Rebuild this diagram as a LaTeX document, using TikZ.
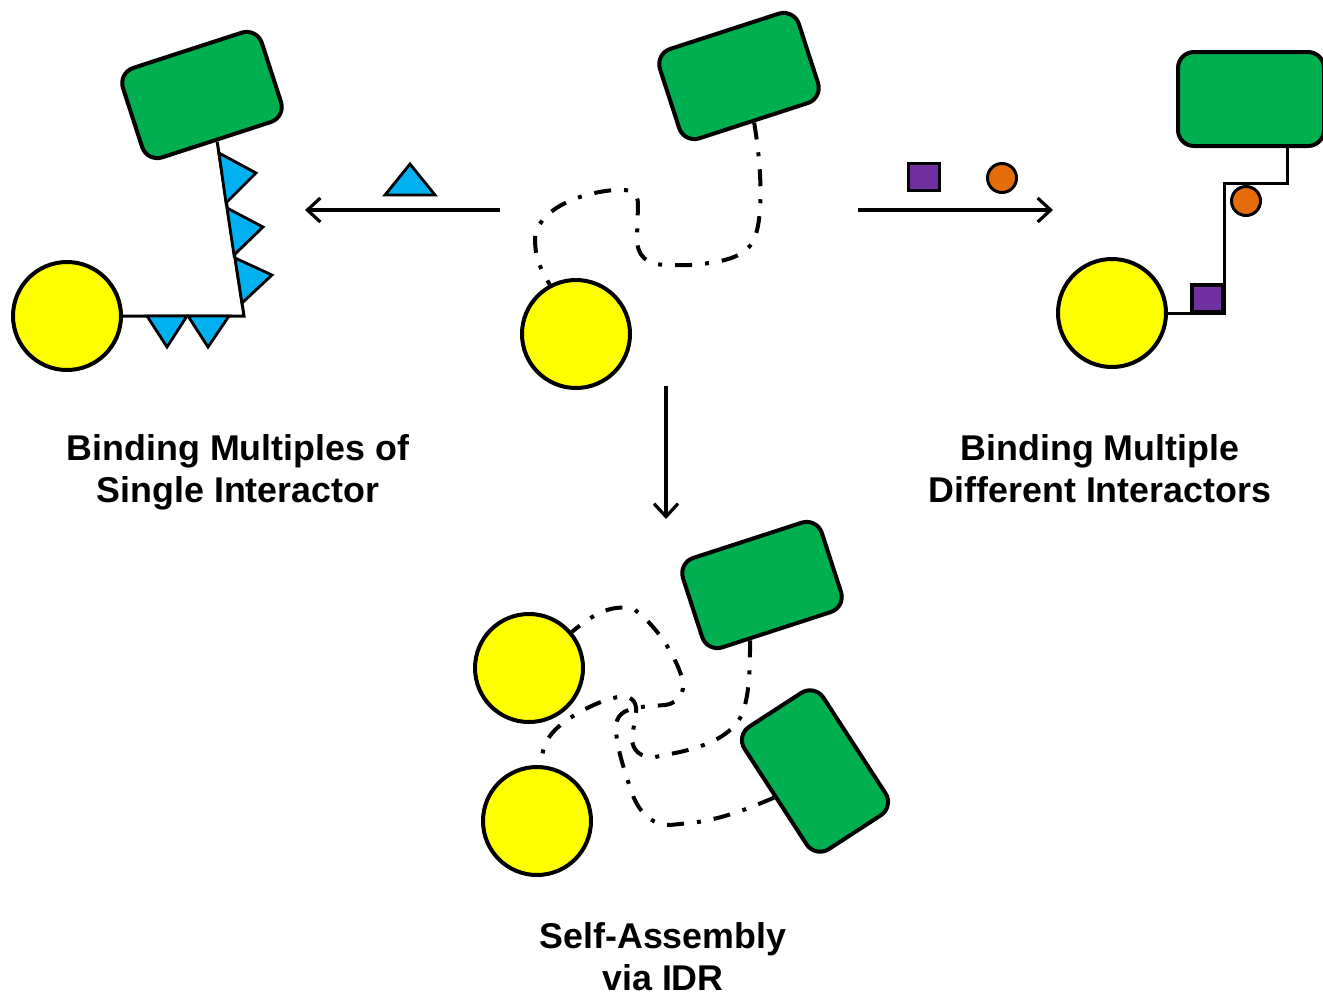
\documentclass[tikz,border=0pt]{standalone}
\usepackage{fontspec}
\setmainfont{Liberation Sans}
\usetikzlibrary{arrows.meta,calc}
\definecolor{domgreen}{HTML}{00B050}
\definecolor{ballyellow}{HTML}{FFFF00}
\definecolor{tricyan}{HTML}{00B0F0}
\definecolor{sqpurple}{HTML}{7030A0}
\definecolor{dotorange}{HTML}{E46C0A}
\begin{document}
\begin{tikzpicture}[x=0.5pt,y=-0.5pt,
  gbox/.style={draw=black,line width=2pt,fill=domgreen,rounded corners=8pt,
    minimum width=73pt,minimum height=47pt,inner sep=0pt},
  ball/.style={circle,draw=black,line width=2pt,fill=ballyellow,minimum size=54pt,inner sep=0pt},
  sq/.style={draw=black,line width=1.7pt,fill=sqpurple,minimum width=15.5pt,minimum height=13.5pt,inner sep=0pt},
  bead/.style={circle,draw=black,line width=1.5pt,fill=dotorange,minimum size=14.5pt,inner sep=0pt},
  tri/.style={draw=black,line width=1.4pt,fill=tricyan,line join=miter},
  link/.style={draw=black,line width=1.5pt},
  idr/.style={draw=black,line width=2pt,dash pattern=on 8.5pt off 6.5pt on 2pt off 6.5pt},
  flow/.style={draw=black,line width=1.6pt,-{Straight Barb[length=6.5pt,width=12pt]}},
  caption/.style={font=\fontsize{17.9}{21.3}\selectfont\bfseries,align=center,anchor=north,inner sep=0pt}
]
\useasboundingbox (0,0) rectangle (1323,997);

% ---- left: one interactor bound many times ----
\node[ball] (y1) at (67,316) {};
\node[gbox,rotate=18] (g1) at (202,95) {};
\coordinate (k1) at (244,316);
\draw[link] (y1.east) -- (k1) -- (g1.south);
\filldraw[tri] (147,316) -- (187,316) -- (167,347) -- cycle;
\filldraw[tri] (188,316) -- (229,316) -- (208,347) -- cycle;
\filldraw[tri] (219,153) -- (226,203) -- (256,173) -- cycle;
\filldraw[tri] (227,208) -- (234,255) -- (263,227) -- cycle;
\filldraw[tri] (235,258) -- (242,303) -- (272,275) -- cycle;

% ---- centre: free protein with disordered linker ----
\node[gbox,rotate=18] (g2) at (739,76) {};
\node[ball] (y2) at (576,334) {};
\draw[idr] (g2.south) .. controls (762,170) and (763,215) .. (755,237)
  .. controls (748,255) and (730,262) .. (690,265) -- (668,265)
  .. controls (645,265) and (637,255) .. (637,238) -- (638,205)
  .. controls (638,192) and (632,189) .. (615,190)
  .. controls (575,193) and (537,212) .. (535,238)
  .. controls (535,255) and (538,265) .. (y2.118);

% ---- arrows and free interactors ----
\coordinate (la0) at (500,210);
\coordinate (la1) at (305,210);
\draw[flow] (la0) -- (la1);
\filldraw[tri] (385,195) -- (435,195) -- (410,164) -- cycle;

\coordinate (ra0) at (858,210);
\coordinate (ra1) at (1053,210);
\draw[flow] (ra0) -- (ra1);
\node[sq] (p1) at (924,177) {};
\node[bead] (o1) at (1002,178) {};

\coordinate (da0) at (666,386);
\coordinate (da1) at (666,519);
\draw[flow] (da0) -- (da1);

% ---- right: two different interactors ----
\node[gbox] (g3) at (1251,99) {};
\node[ball] (y3) at (1112,313) {};
\coordinate (r1) at (1224,313);
\coordinate (r2) at (1224,183);
\coordinate (r3) at (1287,183);
\draw[link] (y3.east) -- (r1) -- (r2) -- (r3) -- (r3 |- g3.south);
\node[sq] (p2) at (1207.5,298.5) {};
\node[bead] (o2) at (1246,201) {};

% ---- bottom: two copies assembled through their linkers ----
\node[gbox,rotate=18] (g4) at (762,585) {};
\node[gbox,rotate=-57] (g5) at (815,771) {};
\node[ball] (y4) at (529,668) {};
\node[ball] (y5) at (537,821) {};
\draw[idr] ($(g4.south)!0.38!(g4.south west)$) .. controls (750,665) and (750,700) .. (740,718)
  .. controls (730,735) and (710,745) .. (680,752) -- (655,757)
  .. controls (640,758) and (632,750) .. (632,738) -- (636,712)
  .. controls (637,700) and (630,695) .. (618,697)
  .. controls (600,700) and (570,715) .. (555,730)
  .. controls (545,740) and (541,752) .. (y5.85);
\draw[idr] (g5.south) .. controls (750,808) and (720,820) .. (690,823) -- (670,825)
  .. controls (650,825) and (638,810) .. (632,793)
  .. controls (624,770) and (616,745) .. (616,728)
  .. controls (616,716) and (622,710) .. (640,707) -- (665,705)
  .. controls (680,703) and (688,690) .. (680,672)
  .. controls (672,650) and (655,625) .. (635,610)
  .. controls (615,603) and (595,612) .. (y4.40);

% ---- captions ----
\node[caption] (c1) at (238,434) {Binding Multiples of\\Single Interactor};
\node[caption] (c2) at (1100,434) {Binding Multiple\\Different Interactors};
\node[caption] (c3) at (663,922) {Self-Assembly\\via IDR};
\end{tikzpicture}
\end{document}
